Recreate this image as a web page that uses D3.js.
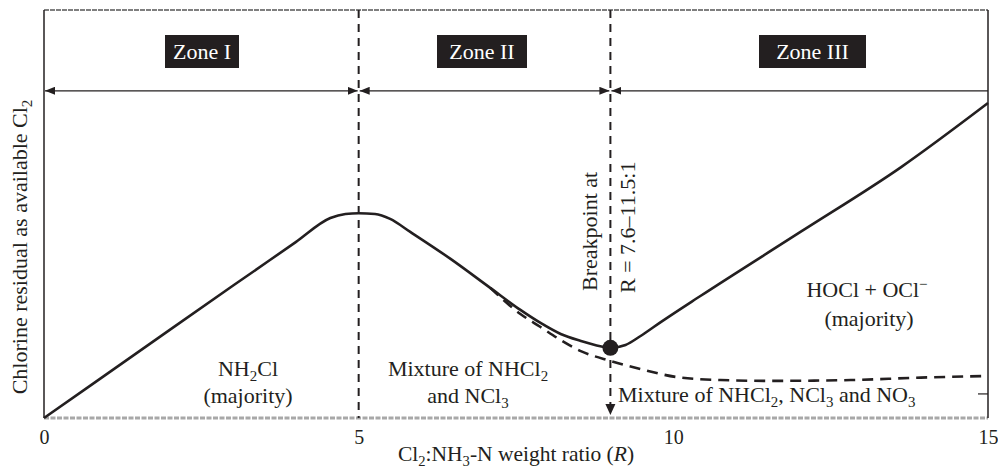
<!DOCTYPE html>
<html>
<head>
<meta charset="utf-8">
<script src="https://cdn.jsdelivr.net/npm/d3@7"></script>
<style>
  html, body { margin: 0; padding: 0; background: #fff; }
  svg text { font-family: "Liberation Serif", "DejaVu Serif", serif; fill: #231f20; }
</style>
</head>
<body>
<svg id="chart" width="998" height="470"></svg>
<script>
// Chlorine residual vs Cl2:NH3-N weight ratio (breakpoint chlorination)
const xTicks = [0, 5, 10, 15];

// Combined residual (solid) — ratio R and residual (relative units, 0–100)
const solidR = [0, 1.5, 3.0, 4.0, 4.55, 4.79, 5.0, 5.26, 5.5, 5.82, 6.46, 7.09, 7.57, 7.89, 8.21, 8.53, 8.84, 9.0, 9.24, 9.48, 9.8, 10.43, 12.02, 13.62, 15.0];
const solidV = [0, 16.2, 32.4, 43.1, 49.0, 50.0, 50.2, 50.0, 48.8, 45.6, 39.0, 31.9, 26.5, 23.3, 20.6, 18.9, 17.6, 17.2, 17.9, 20.1, 23.5, 29.9, 45.6, 61.5, 77.2];

// Chloramine branch (dashed) continuing past the breakpoint
const dashR = [7.09, 7.57, 7.89, 8.21, 8.53, 9.0, 9.48, 10.07, 10.75, 11.55, 12.82, 13.93, 15.0];
const dashV = [31.9, 25.5, 22.3, 19.1, 16.4, 14.0, 12.0, 10.0, 9.3, 9.1, 9.3, 9.9, 10.3];

// Zone boundaries and breakpoint
const zoneEdges = [0, 5, 9, 15];
const zoneNames = ["Zone I", "Zone II", "Zone III"];
const breakR = 9.0, breakV = 17.2;
const yMax = 100;
const zoneArrowV = 80.2;
const rightTickV = 5.9;

const svg = d3.select("#chart");
const pLeft = 44, pRight = 988, pTop = 10, pBottom = 418;
const FS = 22;

const x = d3.scaleLinear().domain([0, 15]).range([pLeft, pRight]);
const y = d3.scaleLinear().domain([0, yMax]).range([pBottom, pTop]);

// Arrow markers
const defs = svg.append("defs");
defs.append("marker").attr("id", "arrowEnd")
  .attr("viewBox", "0 0 10 8").attr("refX", 10).attr("refY", 4)
  .attr("markerWidth", 10).attr("markerHeight", 8).attr("markerUnits", "userSpaceOnUse")
  .attr("orient", "auto")
  .append("path").attr("d", "M0,0 L10,4 L0,8 Z").attr("fill", "#231f20");
defs.append("marker").attr("id", "arrowStart")
  .attr("viewBox", "0 0 10 8").attr("refX", 0).attr("refY", 4)
  .attr("markerWidth", 10).attr("markerHeight", 8).attr("markerUnits", "userSpaceOnUse")
  .attr("orient", "auto")
  .append("path").attr("d", "M10,0 L0,4 L10,8 Z").attr("fill", "#231f20");

// Frame
svg.append("line").attr("x1", pLeft).attr("x2", pRight).attr("y1", pTop).attr("y2", pTop)
  .attr("stroke", "#555").attr("stroke-width", 1.5).attr("stroke-dasharray", "5,1");
svg.append("line").attr("x1", pLeft).attr("x2", pRight).attr("y1", pBottom).attr("y2", pBottom)
  .attr("stroke", "#a8a8a8").attr("stroke-width", 3).attr("stroke-dasharray", "5,1.5");
svg.append("line").attr("x1", pLeft).attr("x2", pLeft).attr("y1", pTop).attr("y2", pBottom)
  .attr("stroke", "#231f20").attr("stroke-width", 1.5);
svg.append("line").attr("x1", pRight).attr("x2", pRight).attr("y1", pTop).attr("y2", pBottom)
  .attr("stroke", "#231f20").attr("stroke-width", 1.5);
svg.append("line").attr("x1", pRight - 10).attr("x2", pRight).attr("y1", y(rightTickV)).attr("y2", y(rightTickV))
  .attr("stroke", "#231f20").attr("stroke-width", 1.2);

// Zone dividers
svg.append("line").attr("x1", x(zoneEdges[1])).attr("x2", x(zoneEdges[1]))
  .attr("y1", pTop).attr("y2", pBottom)
  .attr("stroke", "#231f20").attr("stroke-width", 2).attr("stroke-dasharray", "8,6");
svg.append("line").attr("x1", x(zoneEdges[2])).attr("x2", x(zoneEdges[2]))
  .attr("y1", pTop).attr("y2", pBottom - 2)
  .attr("stroke", "#231f20").attr("stroke-width", 2).attr("stroke-dasharray", "8,6");
svg.append("path")
  .attr("d", `M${x(zoneEdges[2]) - 5},${pBottom - 14} L${x(zoneEdges[2]) + 5},${pBottom - 14} L${x(zoneEdges[2])},${pBottom - 3} Z`)
  .attr("fill", "#231f20");

// Zone span arrows
const ya = y(zoneArrowV);
zoneNames.forEach((name, i) => {
  const a = x(zoneEdges[i]), b = x(zoneEdges[i + 1]);
  const ln = svg.append("line").attr("x1", a + 1).attr("x2", b - (i < 2 ? 1 : 0))
    .attr("y1", ya).attr("y2", ya)
    .attr("stroke", "#231f20").attr("stroke-width", 1.3)
    .attr("marker-start", "url(#arrowStart)");
  if (i < 2) ln.attr("marker-end", "url(#arrowEnd)");
});

// Zone labels
const zoneBoxes = [[165, 239], [437, 527], [759, 866]];
zoneNames.forEach((name, i) => {
  const [a, b] = zoneBoxes[i];
  svg.append("rect").attr("x", a).attr("y", 35).attr("width", b - a).attr("height", 33)
    .attr("fill", "#231f20");
  svg.append("text").attr("x", (a + b) / 2).attr("y", 59).attr("text-anchor", "middle")
    .attr("font-size", FS).style("fill", "#fff").text(name);
});

// Curves
const line = d3.line().x(d => x(d[0])).y(d => y(d[1])).curve(d3.curveMonotoneX);
svg.append("path").datum(dashR.map((r, i) => [r, dashV[i]]))
  .attr("d", line).attr("fill", "none")
  .attr("stroke", "#231f20").attr("stroke-width", 2.6).attr("stroke-dasharray", "11,7");
svg.append("path").datum(solidR.map((r, i) => [r, solidV[i]]))
  .attr("d", line).attr("fill", "none")
  .attr("stroke", "#231f20").attr("stroke-width", 2.6);
svg.append("circle").attr("cx", x(breakR)).attr("cy", y(breakV)).attr("r", 8)
  .attr("fill", "#231f20");

// X axis
const xAxis = svg.append("g").attr("transform", `translate(0,${pBottom})`)
  .call(d3.axisBottom(x).tickValues(xTicks).tickSize(0).tickPadding(0).tickFormat(d3.format("d")));
xAxis.select(".domain").remove();
xAxis.selectAll("text").attr("y", 26).attr("dy", 0)
  .attr("font-size", 20).attr("font-family", "Liberation Serif").style("fill", "#231f20");

// Text helper with subscripts/superscripts: parts = [[text, kind]]
function rich(sel, parts, size) {
  let shift = 0;
  parts.forEach(([t, k]) => {
    const ts = sel.append("tspan").text(t);
    let target = 0;
    if (k === "sub") { ts.attr("font-size", size * 0.68); target = size * 0.22; }
    else if (k === "sup") { ts.attr("font-size", size * 0.68); target = -size * 0.38; }
    else if (k === "it") ts.attr("font-style", "italic");
    if (target !== shift) ts.attr("dy", target - shift);
    shift = target;
  });
  return sel;
}

// X axis title
rich(svg.append("text").attr("x", 516).attr("y", 461).attr("text-anchor", "middle").attr("font-size", 21.5),
  [["Cl", ""], ["2", "sub"], [":NH", ""], ["3", "sub"], ["-N weight ratio (", ""], ["R", "it"], [")", ""]], 21.5);

// Y axis title
rich(svg.append("text").attr("transform", "translate(27,247) rotate(-90)").attr("text-anchor", "middle").attr("font-size", FS),
  [["Chlorine residual as available Cl", ""], ["2", "sub"]], FS);

// Zone annotations
rich(svg.append("text").attr("x", 248).attr("y", 376).attr("text-anchor", "middle").attr("font-size", FS),
  [["NH", ""], ["2", "sub"], ["Cl", ""]], FS);
svg.append("text").attr("x", 248).attr("y", 403).attr("text-anchor", "middle").attr("font-size", FS).text("(majority)");

rich(svg.append("text").attr("x", 468).attr("y", 376).attr("text-anchor", "middle").attr("font-size", FS),
  [["Mixture of NHCl", ""], ["2", "sub"]], FS);
rich(svg.append("text").attr("x", 468).attr("y", 403).attr("text-anchor", "middle").attr("font-size", FS),
  [["and NCl", ""], ["3", "sub"]], FS);

rich(svg.append("text").attr("x", 867).attr("y", 297).attr("text-anchor", "middle").attr("font-size", FS),
  [["HOCl + OCl", ""], ["\u2212", "sup"]], FS);
svg.append("text").attr("x", 869).attr("y", 326).attr("text-anchor", "middle").attr("font-size", FS).text("(majority)");

rich(svg.append("text").attr("x", 618).attr("y", 402).attr("font-size", FS),
  [["Mixture of NHCl", ""], ["2", "sub"], [", NCl", ""], ["3", "sub"], [" and NO", ""], ["3", "sub"]], FS);

// Breakpoint note
svg.append("text").attr("transform", "translate(597,291) rotate(-90)").attr("font-size", FS).text("Breakpoint at");
svg.append("text").attr("transform", "translate(635,293) rotate(-90)").attr("font-size", FS).text("R = 7.6\u201311.5:1");
</script>
</body>
</html>
